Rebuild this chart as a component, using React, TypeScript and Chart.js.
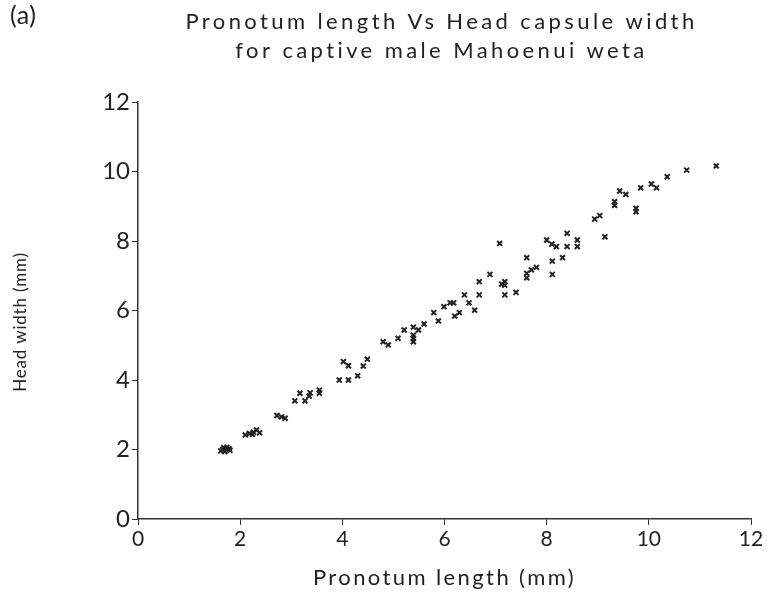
import React, { useEffect, useRef } from "react";
import { Chart, registerables } from "chart.js";

Chart.register(...registerables);

const titleLines = ["Pronotum length Vs Head capsule width", "for captive male Mahoenui weta"];
const panelLabel = "(a)";
const xAxisTitle = "Pronotum length (mm)";
const yAxisTitle = "Head width (mm)";
const axisMin = 0;
const axisMax = 12;
const tickStep = 2;

const pronotumLength = [
  1.62, 1.66, 1.70, 1.74, 1.78, 1.80, 1.68,
  2.10, 2.18, 2.26, 2.32, 2.38, 2.24,
  2.72, 2.81, 2.88,
  3.07, 3.17, 3.27, 3.35, 3.37, 3.55, 3.55,
  3.94, 4.12, 4.02, 4.12, 4.30, 4.41, 4.49,
  4.80, 4.90, 5.09, 5.21, 5.39, 5.49, 5.39, 5.39, 5.39, 5.60,
  5.88, 5.79, 5.99, 6.11, 6.18, 6.29, 6.20, 6.39, 6.48, 6.59,
  6.68, 6.68, 6.89, 7.08, 7.18, 7.12, 7.18, 7.18, 7.40,
  7.61, 7.80, 7.70, 7.61, 7.61,
  8.00, 8.10, 8.19, 8.40, 8.60, 8.40, 8.60, 8.31, 8.11, 8.11,
  9.14, 8.94, 9.04, 9.33, 9.33, 9.75, 9.75, 9.43, 9.55, 9.84,
  10.05, 10.15, 10.36, 10.74, 11.32,
];

const headWidth = [
  1.96, 2.00, 1.94, 2.06, 2.02, 1.98, 2.05,
  2.42, 2.46, 2.50, 2.56, 2.48, 2.44,
  2.98, 2.94, 2.90,
  3.40, 3.62, 3.40, 3.54, 3.63, 3.71, 3.62,
  4.00, 4.00, 4.53, 4.41, 4.12, 4.40, 4.60,
  5.10, 5.01, 5.20, 5.44, 5.52, 5.44, 5.29, 5.20, 5.10, 5.61,
  5.70, 5.94, 6.11, 6.22, 6.22, 5.94, 5.84, 6.45, 6.22, 6.01,
  6.83, 6.45, 7.04, 7.93, 6.83, 6.76, 6.73, 6.45, 6.52,
  7.52, 7.24, 7.17, 7.07, 6.94,
  8.03, 7.91, 7.84, 7.84, 7.84, 8.22, 8.03, 7.52, 7.42, 7.04,
  8.12, 8.63, 8.73, 9.13, 9.03, 8.94, 8.84, 9.44, 9.34, 9.53,
  9.64, 9.53, 9.85, 10.04, 10.16,
];

const FONT = "Lato, 'Open Sans', 'DejaVu Sans', sans-serif";

const textPlugin = {
  id: "customText",
  afterDraw(chart: any) {
    const ctx = chart.ctx;
    const area = chart.chartArea;
    ctx.save();
    ctx.fillStyle = "#222";
    ctx.textBaseline = "middle";
    ctx.textAlign = "center";
    const cx = (area.left + area.right) / 2;

    ctx.font = `22px ${FONT}`;
    (ctx as any).letterSpacing = "3.4px";
    ctx.fillText(titleLines[0], cx - 3, 22);
    ctx.fillText(titleLines[1], cx - 3, 51);

    ctx.font = `22px ${FONT}`;
    (ctx as any).letterSpacing = "2.4px";
    ctx.fillText(xAxisTitle, cx, 578);

    ctx.save();
    ctx.font = `17px ${FONT}`;
    (ctx as any).letterSpacing = "0.8px";
    ctx.translate(21, 322);
    ctx.rotate(-Math.PI / 2);
    ctx.fillText(yAxisTitle, 0, 0);
    ctx.restore();

    (ctx as any).letterSpacing = "0.5px";
    ctx.textAlign = "left";
    ctx.font = `25px ${FONT}`;
    ctx.fillText(panelLabel, 10, 16);
    ctx.restore();
  },
};

export default function App() {
  const canvasRef = useRef<HTMLCanvasElement | null>(null);

  useEffect(() => {
    if (!canvasRef.current) return;
    const points = pronotumLength.map((x, i) => ({ x, y: headWidth[i] }));
    const chart = new Chart(canvasRef.current, {
      type: "scatter",
      data: {
        datasets: [
          {
            data: points,
            pointStyle: "crossRot",
            pointRadius: 3.5,
            pointBorderWidth: 2,
            borderColor: "#222",
            backgroundColor: "#222",
          },
        ],
      },
      options: {
        animation: false,
        responsive: false,
        layout: { padding: { left: 0, right: 17, top: 102, bottom: 0 } },
        plugins: {
          legend: { display: false },
          title: { display: false },
          tooltip: { enabled: false },
        },
        scales: {
          x: {
            type: "linear",
            min: axisMin,
            max: axisMax,
            ticks: {
              stepSize: tickStep,
              color: "#222",
              font: { family: FONT, size: 21 },
              padding: 2,
            },
            grid: {
              display: true,
              drawOnChartArea: false,
              drawTicks: true,
              tickLength: 6,
              color: "#333",
            },
            border: { display: true, color: "#333", width: 1.5 },
            title: { display: false },
            afterFit: (s: any) => {
              s.height = 79;
            },
          },
          y: {
            type: "linear",
            min: axisMin,
            max: axisMax,
            ticks: {
              stepSize: tickStep,
              color: "#222",
              font: { family: FONT, size: 24 },
              padding: 2,
            },
            grid: {
              display: true,
              drawOnChartArea: false,
              drawTicks: true,
              tickLength: 6,
              color: "#333",
            },
            border: { display: true, color: "#333", width: 1.5 },
            title: { display: false },
            afterFit: (s: any) => {
              s.width = 138;
            },
          },
        },
      },
      plugins: [textPlugin],
    });
    return () => chart.destroy();
  }, []);

  return (
    <div style={{ position: "fixed", left: 0, top: 0, width: 768, height: 598, background: "#fff" }}>
      <canvas ref={canvasRef} width={768} height={598} style={{ width: 768, height: 598 }} />
    </div>
  );
}
